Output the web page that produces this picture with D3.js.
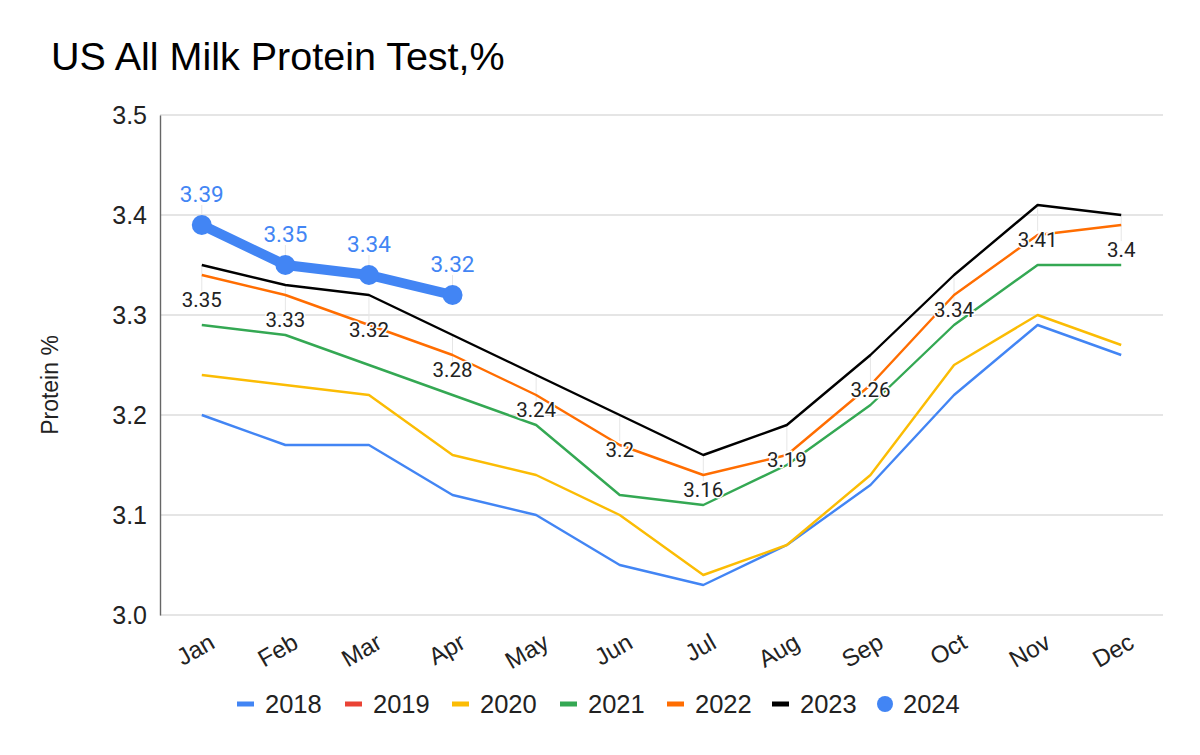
<!DOCTYPE html>
<html>
<head>
<meta charset="utf-8">
<script src="https://cdn.jsdelivr.net/npm/d3@7"></script>
<style>
    body { margin: 0; background: #ffffff; }
    svg { display: block; }
</style>
</head>
<body>
<svg id="chart"></svg>
<script>
// データ
const months = ['Jan', 'Feb', 'Mar', 'Apr', 'May', 'Jun', 'Jul', 'Aug', 'Sep', 'Oct', 'Nov', 'Dec'];
const yTicks = [3.0, 3.1, 3.2, 3.3, 3.4, 3.5];

const v2018 = [3.20, 3.17, 3.17, 3.12, 3.10, 3.05, 3.03, 3.07, 3.13, 3.22, 3.29, 3.26];
const v2019 = [];
const v2020 = [3.24, 3.23, 3.22, 3.16, 3.14, 3.10, 3.04, 3.07, 3.14, 3.25, 3.30, 3.27];
const v2021 = [3.29, 3.28, 3.25, 3.22, 3.19, 3.12, 3.11, 3.15, 3.21, 3.29, 3.35, 3.35];
const v2022 = [3.34, 3.32, 3.29, 3.26, 3.22, 3.17, 3.14, 3.16, 3.23, 3.32, 3.38, 3.39];
const v2023 = [3.35, 3.33, 3.32, 3.28, 3.24, 3.20, 3.16, 3.19, 3.26, 3.34, 3.41, 3.40];
const v2024 = [3.39, 3.35, 3.34, 3.32];

const series = [
    { name: '2018', values: v2018, color: '#4285f4' },
    { name: '2019', values: v2019, color: '#ea4335' },
    { name: '2020', values: v2020, color: '#fbbc04' },
    { name: '2021', values: v2021, color: '#34a853' },
    { name: '2022', values: v2022, color: '#ff6d01' },
    { name: '2023', values: v2023, color: '#000000' },
    { name: '2024', values: v2024, color: '#4285f4', dot: true },
];

const W = 1200, H = 755;
const m = { left: 160, right: 1163, top: 115, bottom: 615 };
const FONT = 'Liberation Sans, Arial, sans-serif';

const svg = d3.select('#chart').attr('width', W).attr('height', H);

const x = d3.scalePoint().domain(months).range([m.left, m.right]).padding(0.5);
const y = d3.scaleLinear().domain([3.0, 3.5]).range([m.bottom, m.top]);

// タイトル
svg.append('text')
    .attr('x', 51).attr('y', 70)
    .attr('font-family', FONT)
    .attr('font-size', 39.5)
    .attr('fill', '#000')
    .text('US All Milk Protein Test,%');

// 罫線
svg.append('g')
    .selectAll('line.grid')
    .data(yTicks)
    .enter()
    .append('line')
    .attr('class', 'grid')
    .attr('x1', m.left).attr('x2', m.right)
    .attr('y1', (d) => y(d)).attr('y2', (d) => y(d))
    .attr('stroke', '#cccccc')
    .attr('stroke-width', 1.2);

// Y 軸
const yAxis = svg.append('g')
    .attr('transform', 'translate(' + m.left + ',0)')
    .call(d3.axisLeft(y).tickValues(yTicks).tickFormat(d3.format('.1f')).tickSize(0).tickPadding(13));
yAxis.select('.domain').attr('stroke', '#666666').attr('stroke-width', 1.4);
yAxis.selectAll('text')
    .attr('font-family', FONT)
    .attr('font-size', 25)
    .attr('fill', '#222');

svg.append('text')
    .attr('transform', 'translate(58,385) rotate(-90)')
    .attr('text-anchor', 'middle')
    .attr('font-family', FONT)
    .attr('font-size', 23)
    .attr('fill', '#222')
    .text('Protein %');

// X 軸 (回転ラベルは末尾を目盛りの右下に揃える)
const xAxis = svg.append('g')
    .attr('transform', 'translate(0,' + m.bottom + ')')
    .call(d3.axisBottom(x).tickSize(0).tickPadding(0));
xAxis.select('.domain').remove();
xAxis.selectAll('text')
    .attr('font-family', FONT)
    .attr('font-size', 24)
    .attr('fill', '#222')
    .attr('text-anchor', 'end')
    .attr('dy', 0)
    .attr('transform', 'translate(14,32) rotate(-30)');

// ラベル用の補助線
svg.append('g')
    .selectAll('line.leader')
    .data(v2023)
    .enter()
    .append('line')
    .attr('x1', (d, i) => x(months[i])).attr('x2', (d, i) => x(months[i]))
    .attr('y1', (d) => y(d)).attr('y2', (d) => y(d) + 26)
    .attr('stroke', '#e6e6e6')
    .attr('stroke-width', 1);
svg.append('g')
    .selectAll('line.leader24')
    .data(v2024)
    .enter()
    .append('line')
    .attr('x1', (d, i) => x(months[i])).attr('x2', (d, i) => x(months[i]))
    .attr('y1', (d) => y(d)).attr('y2', (d) => y(d) - 20)
    .attr('stroke', '#e6e6e6')
    .attr('stroke-width', 1);

// 折れ線
const line = d3.line()
    .x((d, i) => x(months[i]))
    .y((d) => y(d));

series.filter((s) => s.values.length && !s.dot).forEach((s) => {
    svg.append('path')
        .datum(s.values)
        .attr('fill', 'none')
        .attr('stroke', s.color)
        .attr('stroke-width', 2.4)
        .attr('stroke-linejoin', 'round')
        .attr('d', line);
});

// 2023 のデータラベル
svg.append('g')
    .selectAll('text.lbl23')
    .data(v2023)
    .enter()
    .append('text')
    .attr('x', (d, i) => x(months[i]))
    .attr('y', (d) => y(d) + 42)
    .attr('text-anchor', 'middle')
    .attr('font-family', 'Roboto, sans-serif')
    .attr('font-size', 20.5)
    .attr('fill', '#222')
    .attr('stroke', '#ffffff')
    .attr('stroke-width', 3)
    .attr('paint-order', 'stroke')
    .text((d) => String(+d.toFixed(2)));

// 2024
const s24 = series[6];
svg.append('path')
    .datum(v2024)
    .attr('fill', 'none')
    .attr('stroke', s24.color)
    .attr('stroke-width', 10)
    .attr('stroke-linejoin', 'round')
    .attr('d', line);
svg.append('g')
    .selectAll('circle')
    .data(v2024)
    .enter()
    .append('circle')
    .attr('cx', (d, i) => x(months[i]))
    .attr('cy', (d) => y(d))
    .attr('r', 10)
    .attr('fill', s24.color);
svg.append('g')
    .selectAll('text.lbl24')
    .data(v2024)
    .enter()
    .append('text')
    .attr('x', (d, i) => x(months[i]))
    .attr('y', (d) => y(d) - 23)
    .attr('text-anchor', 'middle')
    .attr('font-family', 'Roboto, sans-serif')
    .attr('font-size', 22.5)
    .attr('fill', s24.color)
    .attr('stroke', '#ffffff')
    .attr('stroke-width', 3)
    .attr('paint-order', 'stroke')
    .text((d) => d.toFixed(2));

// 凡例
const legendX = [237, 345, 452, 560, 667, 772, 877];
const legend = svg.append('g')
    .selectAll('g.legend')
    .data(series)
    .enter()
    .append('g')
    .attr('class', 'legend')
    .attr('transform', (d, i) => 'translate(' + legendX[i] + ',704)');
legend.each(function (d) {
    const g = d3.select(this);
    if (d.dot)
        g.append('circle').attr('cx', 8).attr('cy', 0).attr('r', 8).attr('fill', d.color);
    else
        g.append('rect').attr('x', 0).attr('y', -2.5).attr('width', 17).attr('height', 5).attr('fill', d.color);
});
legend.append('text')
    .attr('x', (d) => d.dot ? 26 : 28).attr('y', 9)
    .attr('font-family', FONT)
    .attr('font-size', 25.5)
    .attr('fill', '#222')
    .text((d) => d.name);
</script>
</body>
</html>
